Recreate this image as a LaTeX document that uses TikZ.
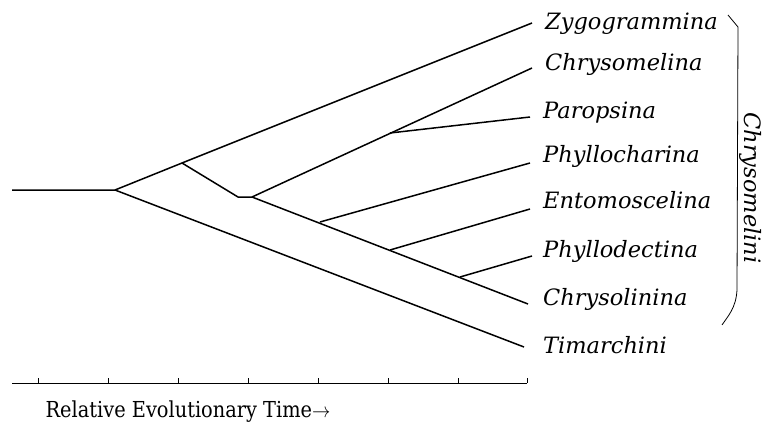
\documentclass[tikz,border=0pt]{standalone}
\usepackage{fontspec}
\setmainfont{DejaVu Serif}
\usetikzlibrary{positioning}

\begin{document}
\begin{tikzpicture}[
    x=1pt, y=-1pt,
    branch/.style={line width=1.5pt},
    taxon/.style={anchor=base west, inner sep=0pt, font=\itshape\fontsize{22.5}{26}\selectfont},
    axis/.style={line width=1pt},
    brace/.style={line width=0.8pt}
  ]
  \useasboundingbox (0,0) rectangle (763,423);

  \coordinate (root) at (12,190);
  \coordinate (split) at (115,190);
  \coordinate (upper) at (182,163);
  \coordinate (inner) at (238,197);
  \coordinate (core) at (252,197);
  \coordinate (parop) at (390,133);
  \coordinate (phyc) at (320,222);
  \coordinate (ento) at (390,250);
  \coordinate (phyd) at (460,277);

  \coordinate (zygo-tip) at (532,23);
  \coordinate (chme-tip) at (532,68);
  \coordinate (parop-tip) at (530,117);
  \coordinate (phyc-tip) at (530,163);
  \coordinate (ento-tip) at (530,209);
  \coordinate (phyd-tip) at (532,256);
  \coordinate (chli-tip) at (528,304);
  \coordinate (tima-tip) at (524,347);

  \node[taxon] (zygo) at (545,29) {Zygogrammina};
  \node[taxon] (chme) at (545,70) {Chrysomelina};
  \node[taxon] (parop-lab) at (543,118) {Paropsina};
  \node[taxon] (phyc-lab) at (543,162) {Phyllocharina};
  \node[taxon] (ento-lab) at (543,208) {Entomoscelina};
  \node[taxon] (phyd-lab) at (543,257) {Phyllodectina};
  \node[taxon] (chli) at (543,305) {Chrysolinina};
  \node[taxon] (tima) at (543,353) {Timarchini};

  \draw[branch] (root) -- (split) -- (upper) -- (zygo-tip);
  \draw[branch] (split) -- (tima-tip);
  \draw[branch] (upper) -- (inner) -- (core) -- (chme-tip);
  \draw[branch] (core) -- (chli-tip);
  \draw[branch] (parop) -- (parop-tip);
  \draw[branch] (phyc) -- (phyc-tip);
  \draw[branch] (ento) -- (ento-tip);
  \draw[branch] (phyd) -- (phyd-tip);

  \draw[brace] (728,15) -- (738,27) -- (737,290)
    .. controls (736,308) and (728,316) .. (722,325);
  \node[taxon, anchor=center, rotate=-90] (tribe) at (751,188) {Chrysomelini};

  \draw[axis] (12,383) -- (527,383);
  \foreach \x in {38,108,178,248,318,388,458,527}
    \draw[axis] (\x,383) -- (\x,378);
  \node[font=\fontsize{22}{26}\selectfont, anchor=base] (time) at (188,417)
    {\scalebox{0.88}[1]{Relative Evolutionary Time$\rightarrow$}};
\end{tikzpicture}
\end{document}
